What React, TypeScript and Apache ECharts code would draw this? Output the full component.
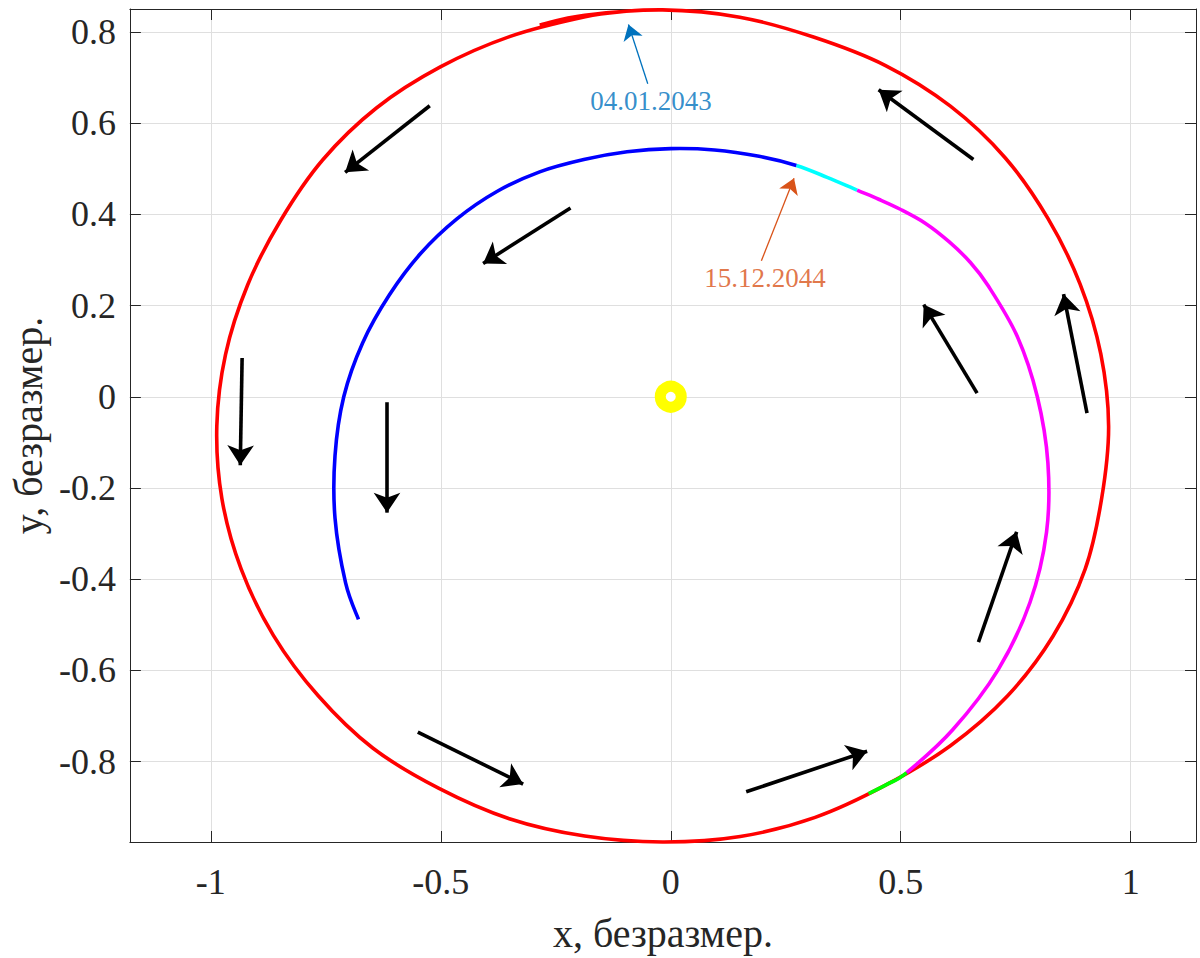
import React, { useEffect, useRef } from "react";
import * as echarts from "echarts";

// ---- data (dimensionless x, y) ----
const redOrbit: number[][] = [
  [-0.097, 0.845], [-0.186, 0.833], [-0.349, 0.79], [-0.501, 0.723], [-0.64, 0.633],
  [-0.757, 0.519], [-0.848, 0.387], [-0.92, 0.245], [-0.968, 0.093], [-0.987, -0.064],
  [-0.976, -0.223], [-0.934, -0.378], [-0.864, -0.523], [-0.767, -0.655], [-0.648, -0.77],
  [-0.505, -0.858], [-0.351, -0.925], [-0.187, -0.963], [-0.018, -0.976], [0.151, -0.964],
  [0.314, -0.922], [0.466, -0.852], [0.608, -0.765], [0.732, -0.656], [0.831, -0.525],
  [0.901, -0.378], [0.937, -0.222], [0.952, -0.064], [0.935, 0.094], [0.89, 0.247],
  [0.82, 0.391], [0.727, 0.524], [0.608, 0.637], [0.467, 0.726], [0.312, 0.788],
  [0.15, 0.832], [-0.018, 0.848], [-0.187, 0.836], [-0.285, 0.815],
];
const greenArc: number[][] = [[0.43, -0.87], [0.471, -0.849], [0.513, -0.824]];
const magentaArc: number[][] = [
  [0.513, -0.824], [0.613, -0.73], [0.712, -0.598], [0.781, -0.451], [0.817, -0.297],
  [0.82, -0.145], [0.797, 0.0], [0.753, 0.133], [0.689, 0.245], [0.65, 0.296],
  [0.605, 0.34], [0.554, 0.38], [0.499, 0.411], [0.452, 0.433], [0.405, 0.453],
];
const cyanArc: number[][] = [[0.405, 0.453], [0.34, 0.481], [0.273, 0.507]];
const blueArc: number[][] = [
  [0.273, 0.507], [0.192, 0.527], [0.095, 0.541], [0.0, 0.544], [-0.095, 0.537],
  [-0.189, 0.52], [-0.285, 0.493], [-0.378, 0.45], [-0.465, 0.39], [-0.544, 0.314],
  [-0.612, 0.223], [-0.67, 0.118], [-0.711, 0.0], [-0.73, -0.129], [-0.73, -0.266],
  [-0.707, -0.408], [-0.679, -0.488],
];
const arrowStarts: number[][] = [
  [-0.524, 0.638], [-0.218, 0.414], [-0.932, 0.085], [-0.617, -0.012], [-0.55, -0.735],
  [0.164, -0.866], [0.669, -0.538], [0.905, -0.036], [0.666, 0.008], [0.658, 0.52],
];
const arrowEnds: number[][] = [
  [-0.708, 0.492], [-0.408, 0.292], [-0.936, -0.15], [-0.617, -0.254], [-0.321, -0.849],
  [0.427, -0.777], [0.752, -0.296], [0.854, 0.225], [0.55, 0.202], [0.452, 0.673],
];
const noteLabels = ["04.01.2043", "15.12.2044"];
const noteTextPos: number[][] = [[-0.043, 0.649], [0.205, 0.261]];
const noteArrowFrom: number[][] = [[-0.05, 0.686], [0.197, 0.298]];
const noteArrowTo: number[][] = [[-0.092, 0.816], [0.268, 0.479]];
const noteColors = ["#0072BD", "#D95319"];
const sunPos: number[][] = [[0, 0]];
const xTicks = [-1, -0.5, 0, 0.5, 1];
const yTicks = [-0.8, -0.6, -0.4, -0.2, 0, 0.2, 0.4, 0.6, 0.8];
const xRange = [-1.176, 1.142];
const yRange = [-0.976, 0.85];

const FONT = '"Liberation Serif", "Times New Roman", serif';
const AX = "#262626";
const LW = 3.6;

// Catmull-Rom spline through pixel points, segment [from, to]
function splinePath(pts: number[][], from: number, to: number): string {
  let d = `M${pts[from][0]},${pts[from][1]}`;
  for (let i = from; i < to; i++) {
    const p0 = pts[Math.max(i - 1, 0)];
    const p1 = pts[i];
    const p2 = pts[i + 1];
    const p3 = pts[Math.min(i + 2, pts.length - 1)];
    const c1x = p1[0] + (p2[0] - p0[0]) / 6;
    const c1y = p1[1] + (p2[1] - p0[1]) / 6;
    const c2x = p2[0] - (p3[0] - p1[0]) / 6;
    const c2y = p2[1] - (p3[1] - p1[1]) / 6;
    d += ` C${c1x},${c1y} ${c2x},${c2y} ${p2[0]},${p2[1]}`;
  }
  return d;
}

// one spline series made of coloured pieces sharing tangents at the joints
function splineSeries(pieces: { pts: number[][]; color: string }[], z: number) {
  const all: number[][] = [];
  const ranges: { from: number; to: number; color: string }[] = [];
  pieces.forEach((p, k) => {
    const start = k === 0 ? 0 : 1;
    const from = all.length === 0 ? 0 : all.length - 1;
    for (let i = start; i < p.pts.length; i++) all.push(p.pts[i]);
    ranges.push({ from, to: all.length - 1, color: p.color });
  });
  return {
    type: "custom",
    coordinateSystem: "cartesian2d",
    data: [[0, 0]],
    silent: true,
    z,
    renderItem: (_params: any, api: any) => {
      const px = all.map((p) => api.coord(p));
      return {
        type: "group",
        children: ranges.map((r) => ({
          type: "path",
          shape: { pathData: splinePath(px, r.from, r.to) },
          style: { fill: "none", stroke: r.color, lineWidth: LW, lineJoin: "round" },
        })),
      };
    },
  };
}

export default function App() {
  const ref = useRef<HTMLDivElement>(null);
  useEffect(() => {
    if (!ref.current) return;
    const chart = echarts.init(ref.current, null, { renderer: "svg" });
    const axisLine = { show: true, onZero: false, lineStyle: { color: AX, width: 1 } };
    const tick = (vals: number[]) => ({
      show: true,
      inside: true,
      length: 11,
      customValues: vals,
      lineStyle: { color: AX, width: 1 },
    });
    const option: any = {
      animation: false,
      backgroundColor: "#ffffff",
      grid: { left: 129, right: 4, top: 9, bottom: 109, containLabel: false },
      xAxis: [
        {
          type: "value",
          position: "bottom",
          min: xRange[0],
          max: xRange[1],
          name: "x, безразмер.",
          nameLocation: "middle",
          nameGap: 71,
          nameTextStyle: { fontFamily: FONT, fontSize: 40, color: AX },
          axisLine,
          axisTick: tick(xTicks),
          axisLabel: {
            show: true,
            customValues: xTicks,
            formatter: (v: number) => String(v),
            fontFamily: FONT,
            fontSize: 36,
            color: AX,
            margin: 22,
          },
          splitLine: { show: true, lineStyle: { color: "#dfdfdf", width: 1 } },
        },
        {
          type: "value",
          position: "top",
          min: xRange[0],
          max: xRange[1],
          axisLine,
          axisTick: tick(xTicks),
          axisLabel: { show: false },
          splitLine: { show: false },
        },
      ],
      yAxis: [
        {
          type: "value",
          position: "left",
          min: yRange[0],
          max: yRange[1],
          name: "y, безразмер.",
          nameLocation: "middle",
          nameGap: 76,
          nameTextStyle: { fontFamily: FONT, fontSize: 40, color: AX },
          axisLine,
          axisTick: tick(yTicks),
          axisLabel: {
            show: true,
            customValues: yTicks,
            formatter: (v: number) => String(v),
            fontFamily: FONT,
            fontSize: 36,
            color: AX,
            margin: 14,
          },
          splitLine: { show: true, lineStyle: { color: "#dfdfdf", width: 1 } },
        },
        {
          type: "value",
          position: "right",
          min: yRange[0],
          max: yRange[1],
          axisLine,
          axisTick: tick(yTicks),
          axisLabel: { show: false },
          splitLine: { show: false },
        },
      ],
      series: [
        splineSeries([{ pts: redOrbit, color: "#ff0000" }], 2),
        splineSeries(
          [
            { pts: greenArc, color: "#00ff00" },
            { pts: magentaArc, color: "#ff00ff" },
            { pts: cyanArc, color: "#00ffff" },
            { pts: blueArc, color: "#0000ff" },
          ],
          3
        ),
        {
          type: "lines",
          coordinateSystem: "cartesian2d",
          symbol: ["none", "arrow"],
          symbolSize: 20,
          lineStyle: { color: "#000000", width: LW, opacity: 1 },
          data: arrowStarts.map((s, i) => ({ coords: [s, arrowEnds[i]] })),
          z: 5,
          silent: true,
        },
        {
          type: "lines",
          coordinateSystem: "cartesian2d",
          symbol: ["none", "arrow"],
          symbolSize: 15,
          data: noteArrowFrom.map((s, i) => ({
            coords: [s, noteArrowTo[i]],
            lineStyle: { color: noteColors[i], width: 1.3, opacity: 1 },
          })),
          z: 6,
          silent: true,
        },
        {
          type: "scatter",
          symbolSize: 0,
          data: noteTextPos.map((p, i) => ({
            value: p,
            name: noteLabels[i],
            label: {
              show: true,
              position: "inside",
              formatter: noteLabels[i],
              color: noteColors[i],
              fontFamily: FONT,
              fontSize: 27,
            },
          })),
          z: 6,
          silent: true,
        },
        {
          type: "scatter",
          data: sunPos,
          symbol: "circle",
          symbolSize: 21,
          itemStyle: { color: "#ffffff", borderColor: "#ffff00", borderWidth: 11, opacity: 1 },
          z: 7,
          silent: true,
        },
      ],
    };
    chart.setOption(option);
    return () => chart.dispose();
  }, []);
  return (
    <div
      ref={ref}
      style={{ position: "absolute", left: 0, top: 0, width: 1200, height: 958, background: "#fff" }}
    />
  );
}
